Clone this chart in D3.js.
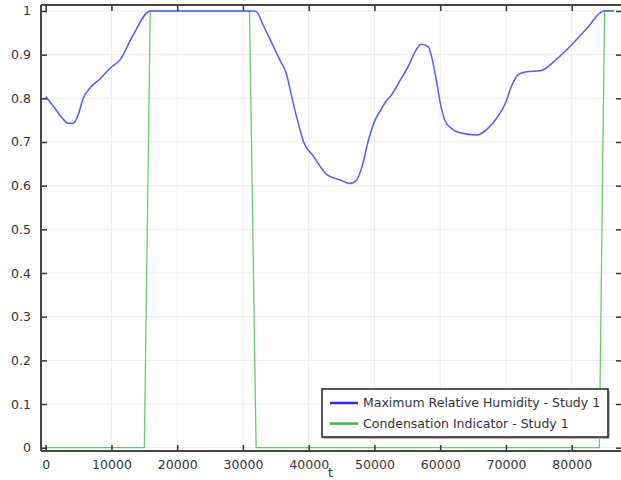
<!DOCTYPE html>
<html><head><meta charset="utf-8">
<script src="https://cdn.jsdelivr.net/npm/d3@7"></script>
<style>body{margin:0;background:#fff}svg{display:block}</style>
</head><body>
<svg id="c" width="621" height="480"></svg>
<script>
// Data
const humidityT = [0,1500,2500,3400,4200,5000,5700,6700,8300,9800,11300,13300,15900,31500,32100,33000,33900,35600,36600,37300,37900,38500,39200,40700,42700,44800,46300,47300,48100,49100,50100,50800,51900,52400,54100,55100,56200,57100,58200,58700,59500,60000,60700,61700,63000,65500,67100,68600,69900,70900,71900,73200,75200,76700,77000,79700,82300,84900,86400];
const humidityV = [0.804,0.775,0.755,0.743,0.743,0.765,0.800,0.823,0.845,0.869,0.888,0.945,1.0,1.0,0.998,0.970,0.942,0.888,0.857,0.812,0.773,0.738,0.701,0.668,0.626,0.613,0.605,0.613,0.643,0.705,0.750,0.769,0.796,0.804,0.846,0.872,0.907,0.924,0.918,0.895,0.834,0.79,0.750,0.731,0.721,0.716,0.729,0.755,0.788,0.830,0.855,0.861,0.863,0.876,0.880,0.918,0.960,1.0,1.0];
const condT = [0,15000,15900,31000,32000,84200,85000,86400];
const condV = [0,0,1,1,0,0,1,1];
const xTicks = [0,10000,20000,30000,40000,50000,60000,70000,80000];
const yTicks = [0,0.1,0.2,0.3,0.4,0.5,0.6,0.7,0.8,0.9,1];
const seriesNames = ["Maximum Relative Humidity - Study 1","Condensation Indicator - Study 1"];
const xLabel = "t";

(function(){
const L=41,R=622,T=5,B=451;
const svg=d3.select("#c");
const x=d3.scaleLinear().domain([-715,87650]).range([L,R]);
const y=d3.scaleLinear().domain([-0.0076,1.0137]).range([B,T]);
const font='"DejaVu Sans", sans-serif';

// grid
const g=svg.append("g");
g.selectAll(".gx").data(xTicks).join("line").attr("x1",d=>x(d)).attr("x2",d=>x(d)).attr("y1",T).attr("y2",B).attr("stroke","#ececec").attr("stroke-width",1);
g.selectAll(".gy").data(yTicks).join("line").attr("y1",d=>y(d)).attr("y2",d=>y(d)).attr("x1",L).attr("x2",R).attr("stroke","#ececec").attr("stroke-width",1);

// lines
const humid=humidityT.map((t,i)=>[t,humidityV[i]]);
const cond=condT.map((t,i)=>[t,condV[i]]);
svg.append("path").datum(cond).attr("d",d3.line().x(d=>x(d[0])).y(d=>y(d[1]))).attr("fill","none").attr("stroke","#66cc6e").attr("stroke-width",1.3);
svg.append("path").datum(humid).attr("d",d3.line().curve(d3.curveMonotoneX).x(d=>x(d[0])).y(d=>y(d[1]))).attr("fill","none").attr("stroke","#5a5aff").attr("stroke-width",1.5);

// axes
const tl=6;
const axB=d3.axisBottom(x).tickValues(xTicks).tickSize(-tl).tickPadding(9).tickFormat(d3.format("d"));
const axT=d3.axisTop(x).tickValues(xTicks).tickSize(-tl).tickFormat("");
const axL=d3.axisLeft(y).tickValues(yTicks).tickSize(-tl).tickPadding(10).tickFormat(d=>String(+d.toFixed(1)));
const axR=d3.axisRight(y).tickValues(yTicks).tickSize(-tl).tickFormat("");
function style(sel){
  sel.select(".domain").remove();
  sel.selectAll(".tick line").attr("stroke","#333").attr("stroke-width",1.5);
  sel.selectAll(".tick text").attr("fill","#333").style("font-family",font).style("font-size","12.5px");
}
svg.append("g").attr("transform",`translate(0,${B})`).call(axB).call(style);
svg.append("g").attr("transform",`translate(0,${T})`).call(axT).call(style);
svg.append("g").attr("transform",`translate(${L},0)`).call(axL).call(style);
svg.append("g").attr("transform",`translate(${R},0)`).call(axR).call(style);
// frame
svg.append("line").attr("x1",L).attr("x2",R).attr("y1",B).attr("y2",B).attr("stroke","#444").attr("stroke-width",2);
svg.append("line").attr("x1",L).attr("x2",R).attr("y1",T).attr("y2",T).attr("stroke","#444").attr("stroke-width",2);
svg.append("line").attr("x1",L).attr("x2",L).attr("y1",T).attr("y2",B).attr("stroke","#444").attr("stroke-width",2);

svg.append("text").attr("x",(L+R)/2-1).attr("y",477).attr("text-anchor","middle").attr("fill","#333").style("font-family",font).style("font-size","12.5px").text(xLabel);

// legend
const lx=322,ly=389,lw=286,lh=48;
svg.append("rect").attr("x",lx+2).attr("y",ly+2).attr("width",lw).attr("height",lh).attr("fill","#bbb");
svg.append("rect").attr("x",lx).attr("y",ly).attr("width",lw).attr("height",lh).attr("fill","#fff").attr("stroke","#222").attr("stroke-width",1.5);
const lcol=["#2b2bff","#2fbf3a"];
seriesNames.forEach((n,i)=>{
  const yy=ly+14+i*20.6;
  svg.append("line").attr("x1",330).attr("x2",358).attr("y1",yy).attr("y2",yy).attr("stroke",lcol[i]).attr("stroke-width",2.5);
  svg.append("text").attr("x",363).attr("y",yy).attr("dy","0.35em").attr("fill","#333").style("font-family",font).style("font-size","12.5px").text(n);
});
})();
</script>
</body></html>
